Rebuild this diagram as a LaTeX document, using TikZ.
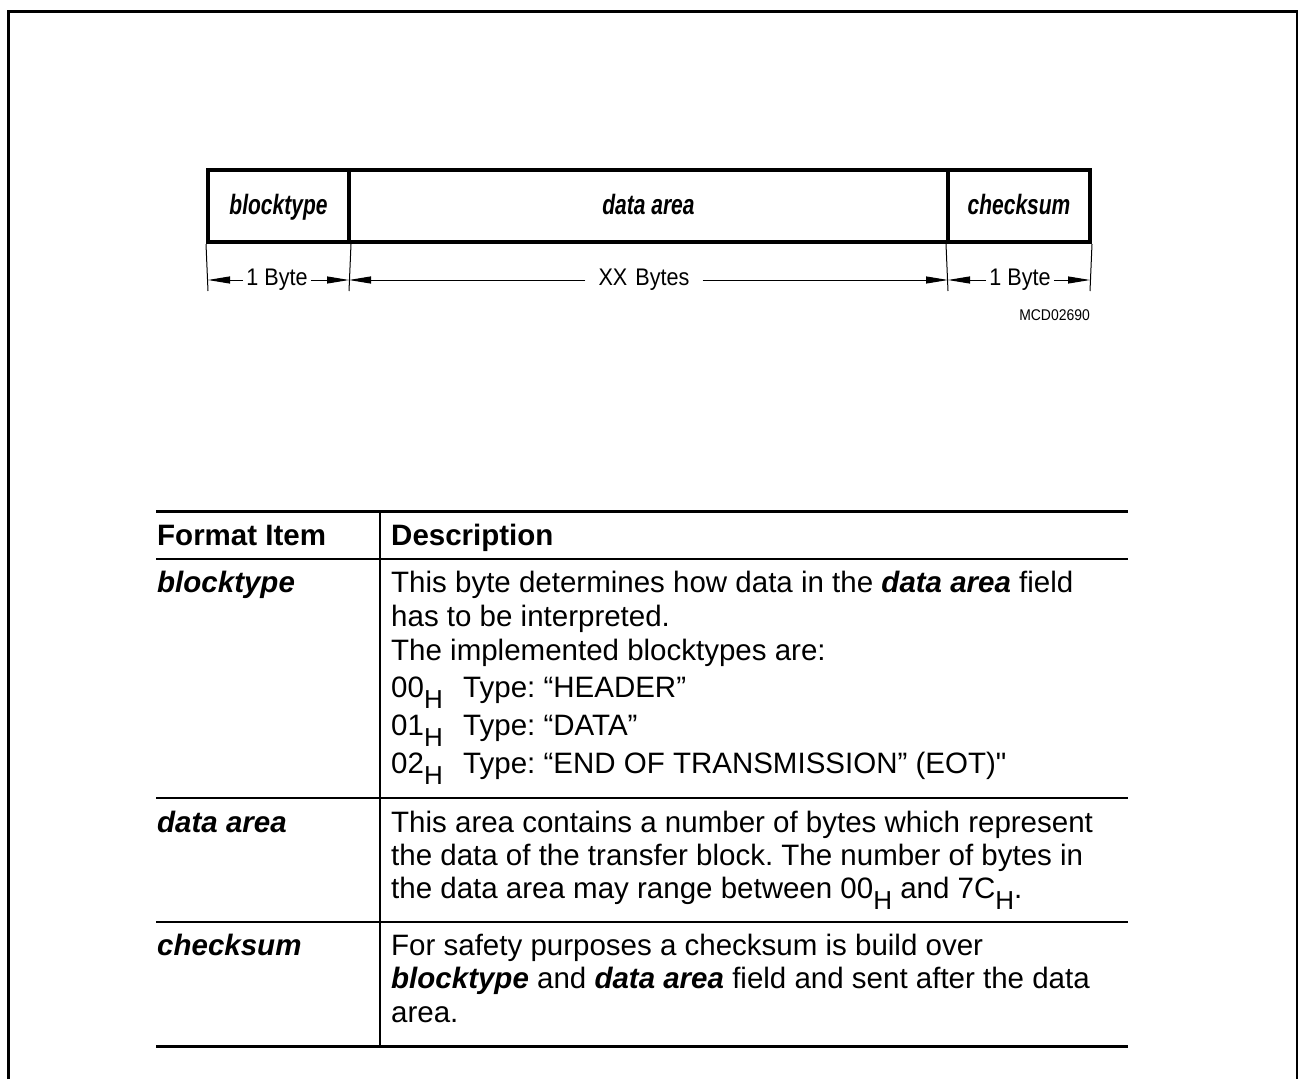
\documentclass[tikz,border=0pt]{standalone}
\usepackage{fontspec}
\setmainfont{Liberation Sans}
\newfontfamily\plainLS{Liberation Sans}
\newfontfamily\narrowA[FakeStretch=0.75]{Liberation Sans}
\newfontfamily\narrowB[FakeStretch=0.9]{Liberation Sans}
\usetikzlibrary{arrows.meta}
\frenchspacing
\newcommand{\sH}{\raisebox{-0.38em}{\fontsize{26}{30}\selectfont H}}
\newcommand{\bi}[1]{\textbf{\textit{#1}}}
\begin{document}
\begin{tikzpicture}[x=1pt,y=-1pt,
  fieldbox/.style={draw,line width=4pt,minimum height=72pt,inner sep=0pt,
    text height=19pt,text depth=3pt,
    font=\narrowA\fontsize{28}{32}\selectfont\bfseries\itshape},
  dimtext/.style={inner xsep=3pt,inner ysep=2pt,font=\narrowB\fontsize{24}{28}\selectfont},
  dimarrow/.style={line width=1pt,-{Triangle[length=22pt,width=7pt]}},
  tick/.style={line width=1pt},
  thickrule/.style={line width=3pt},
  rule/.style={line width=2.5pt},
  vrule/.style={line width=2pt},
  cell/.style={anchor=base west,inner sep=0pt,font=\fontsize{29.5}{34}\selectfont\frenchspacing},
  frameline/.style={line width=3pt}]
\useasboundingbox (0,0) rectangle (1298,1079);
% frame (open at the bottom)
\draw[frameline] (8,1079) -- (8,11) -- (1297,11) -- (1297,1079);

% block format
\node[fieldbox,minimum width=141pt] (blk) at (278.5,206) {blocktype};
\node[fieldbox,minimum width=599pt] (dat) at (648.5,206) {data area};
\node[fieldbox,minimum width=142pt] (chk) at (1019,206) {checksum};

\coordinate (t0) at (208,291);
\coordinate (t1) at (349,291);
\coordinate (t2) at (948,291);
\coordinate (t3) at (1090,291);
\draw[tick] (blk.south west) -- (t0);
\draw[tick] (blk.south east) -- (t1);
\draw[tick] (chk.south west) -- (t2);
\draw[tick] (chk.south east) -- (t3);

\node[dimtext] (d1) at (277,280) {1 Byte};
\node[dimtext,inner xsep=13pt] (d2) at (644,280) {XX\,\,Bytes};
\node[dimtext] (d3) at (1020,280) {1 Byte};
\coordinate (a0) at (208,280);
\coordinate (a1) at (349,280);
\coordinate (a2) at (948,280);
\coordinate (a3) at (1090,280);
\draw[dimarrow] (d1) -- (a0);
\draw[dimarrow] (d1) -- (a1);
\draw[dimarrow] (d2) -- (a1);
\draw[dimarrow] (d2) -- (a2);
\draw[dimarrow] (d3) -- (a2);
\draw[dimarrow] (d3) -- (a3);

\node[anchor=base east,inner sep=0pt,font=\narrowB\fontsize{15.5}{18}\selectfont] (mcd) at (1090,320) {MCD02690};

% table
\draw[thickrule] (156,511) -- (1128,511);
\draw[rule] (156,559) -- (1128,559);
\draw[rule] (156,798) -- (1128,798);
\draw[rule] (156,922) -- (1128,922);
\draw[thickrule] (156,1046) -- (1128,1046);
\draw[vrule] (380,511) -- (380,1046);

\node[cell] (h1) at (157,545) {\textbf{Format Item}};
\node[cell] (h2) at (391,545) {\textbf{Description}};

\node[cell] (l1) at (157,592) {\bi{blocktype}};
\node[cell] (b1) at (391,592) {This byte determines how data in the \bi{data area} field};
\node[cell] (b2) at (391,626) {has to be interpreted.};
\node[cell] (b3) at (391,660) {The implemented blocktypes are:};
\node[cell] (b4a) at (391,697) {00\sH};
\node[cell] (b4b) at (463,697) {Type: “HEADER”};
\node[cell] (b5a) at (391,735) {01\sH};
\node[cell] (b5b) at (463,735) {Type: “DATA”};
\node[cell] (b6a) at (391,773) {02\sH};
\node[cell] (b6b) at (463,773) {Type: “END OF TRANSMISSION” (EOT){\plainLS"}};

\node[cell] (l2) at (157,832) {\bi{data area}};
\node[cell] (c1) at (391,832) {This area contains a number of bytes which represent};
\node[cell] (c2) at (391,865) {the data of the transfer block. The number of bytes in};
\node[cell] (c3) at (391,898) {the data area may range between 00\sH{} and 7C\sH.};

\node[cell] (l3) at (157,955) {\bi{checksum}};
\node[cell] (e1) at (391,955) {For safety purposes a checksum is build over};
\node[cell] (e2) at (391,988) {\bi{blocktype} and \bi{data area} field and sent after the data};
\node[cell] (e3) at (391,1022) {area.};
\end{tikzpicture}
\end{document}
